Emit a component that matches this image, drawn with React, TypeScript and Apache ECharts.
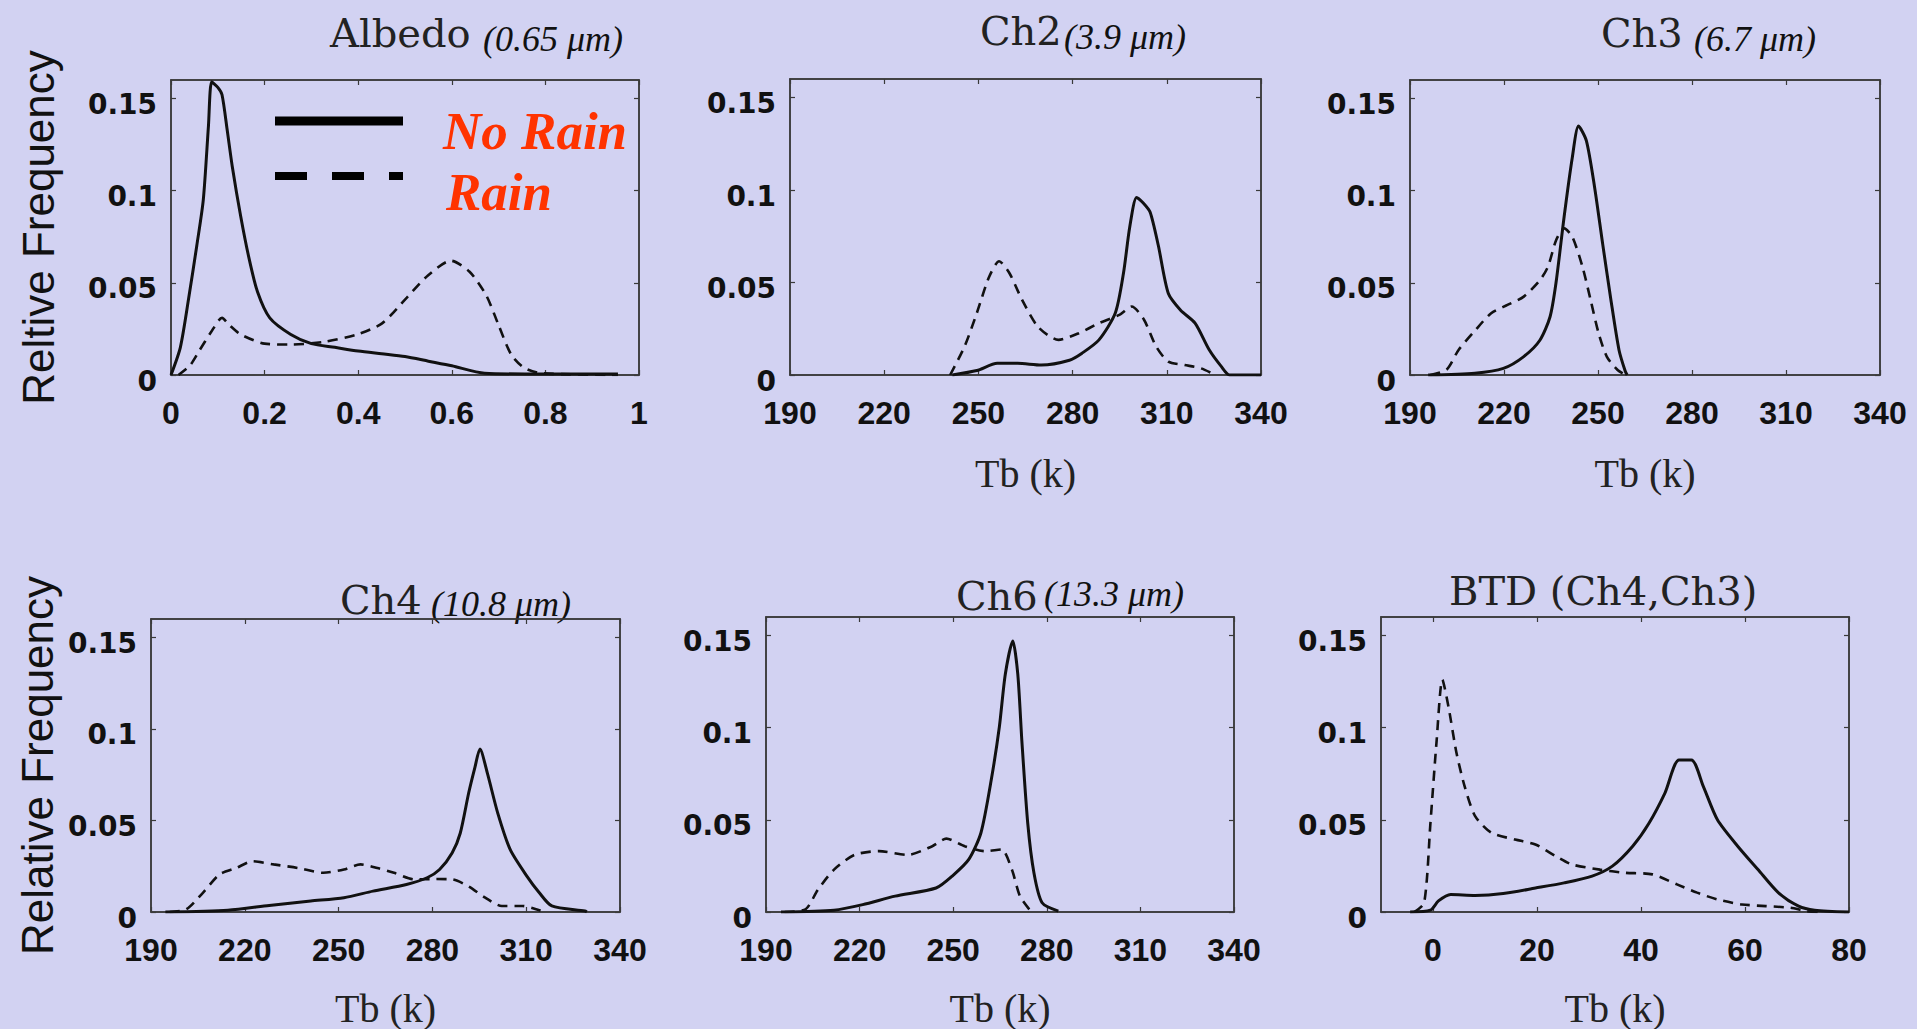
import React, { useEffect, useRef } from "react";
import * as echarts from "echarts";

const BG = "#d2d2f2";
const AXIS_COLOR = "#3a3a3a";

// ---- Data (x, relative frequency) ----
const albedoNoRain: number[][] = [[0,0],[0.02,0.015],[0.038,0.042],[0.055,0.07],[0.069,0.095],[0.08,0.135],[0.087,0.159],[0.1,0.156],[0.109,0.152],[0.12,0.133],[0.131,0.113],[0.149,0.086],[0.167,0.063],[0.185,0.045],[0.211,0.031],[0.256,0.022],[0.3,0.017],[0.35,0.015],[0.4,0.013],[0.45,0.0115],[0.5,0.01],[0.55,0.0075],[0.6,0.005],[0.67,0.001],[0.8,0.0005],[0.955,0.0005]];
const albedoRain: number[][] = [[0.016,0],[0.04,0.005],[0.06,0.013],[0.085,0.023],[0.109,0.031],[0.125,0.027],[0.149,0.022],[0.2,0.017],[0.256,0.0165],[0.327,0.018],[0.398,0.022],[0.451,0.028],[0.504,0.042],[0.549,0.054],[0.598,0.062],[0.638,0.056],[0.674,0.043],[0.7,0.027],[0.727,0.011],[0.754,0.004],[0.79,0.001],[0.955,0]];

const ch2NoRain: number[][] = [[241.7,0],[249.5,0.0024],[256,0.0063],[262.5,0.0063],[270,0.0054],[279,0.008],[283,0.0118],[288.4,0.019],[293.6,0.0335],[296.2,0.055],[298.2,0.08],[300.4,0.096],[302.5,0.093],[304.7,0.088],[307.3,0.07],[310.5,0.044],[314.4,0.035],[319,0.028],[323.5,0.0136],[327.4,0.0045],[330,0],[340,0]];
const ch2Rain: number[][] = [[241,0],[245.6,0.0154],[249.5,0.0335],[253.4,0.053],[256.6,0.0615],[259.9,0.055],[263.8,0.041],[269,0.026],[275.5,0.019],[282,0.0226],[288.4,0.028],[294.9,0.0325],[298.8,0.037],[302.7,0.03],[306.6,0.0154],[310.5,0.0072],[315.7,0.0054],[320.9,0.0036],[325.5,0]];

const ch3NoRain: number[][] = [[195.8,0],[210.7,0.001],[219.8,0.0036],[226.3,0.01],[231.5,0.019],[234.7,0.0316],[236.6,0.05],[239.2,0.086],[241.8,0.118],[243.8,0.135],[246.3,0.127],[248.9,0.102],[251.5,0.071],[254.1,0.041],[256.7,0.0136],[258.7,0.002],[259.3,0]];
const ch3Rain: number[][] = [[196.5,0],[201.7,0.003],[205.5,0.0136],[210.7,0.024],[215.9,0.0335],[221.1,0.038],[226.3,0.0425],[231.5,0.0515],[234.1,0.059],[236.6,0.073],[239.2,0.0795],[241.8,0.075],[245,0.059],[247.6,0.041],[250.2,0.0226],[252.8,0.01],[256.1,0.003],[258.7,0]];

const ch4NoRain: number[][] = [[194.6,0],[214.6,0.001],[227.8,0.0036],[241.1,0.006],[251.7,0.0078],[261,0.0114],[271.7,0.015],[278.3,0.0187],[282.3,0.0232],[286.3,0.0322],[288.9,0.043],[291.6,0.065],[293.6,0.079],[295.2,0.089],[297.6,0.0757],[300.9,0.054],[304.9,0.034],[310.2,0.0196],[314.2,0.0105],[318.2,0.0033],[328.8,0.0005],[329.4,0]];
const ch4Rain: number[][] = [[196,0],[201.3,0.0015],[206.6,0.0105],[211.9,0.0205],[217.2,0.024],[222.5,0.0277],[229.2,0.026],[237.1,0.024],[245.1,0.0214],[251.7,0.0232],[257,0.026],[262.4,0.024],[267.7,0.0214],[274.3,0.0178],[281,0.018],[286.3,0.0178],[291.6,0.014],[296.9,0.0078],[302.2,0.0033],[308.8,0.0033],[314.2,0.001],[316,0]];

const ch6NoRain: number[][] = [[194.8,0],[211.8,0.001],[221,0.004],[231.4,0.0086],[244.5,0.013],[249.7,0.0195],[255,0.0285],[258.9,0.043],[262.2,0.0717],[264.8,0.1005],[266.7,0.129],[269.1,0.147],[270.7,0.129],[272,0.093],[273.9,0.048],[275.9,0.021],[278.5,0.005],[283.7,0.0005]];
const ch6Rain: number[][] = [[196,0],[202.7,0.0015],[206.6,0.012],[211.8,0.023],[218.4,0.031],[226.2,0.033],[235.4,0.031],[243.3,0.0357],[247.8,0.0398],[253.7,0.0357],[260.2,0.033],[265.5,0.0339],[268.8,0.023],[271.4,0.0086],[274.6,0.001]];

const btdNoRain: number[][] = [[-4.4,0],[-0.5,0.001],[1.05,0.006],[3.4,0.0095],[8.1,0.009],[13.5,0.01],[19.7,0.013],[25.2,0.0158],[30.6,0.0195],[34.5,0.0249],[38.4,0.0357],[41.5,0.048],[44.6,0.0645],[47.3,0.0825],[49.7,0.0825],[52,0.068],[54.7,0.05],[58.6,0.0357],[62.5,0.023],[66.4,0.0105],[70.3,0.0032],[73.4,0.001],[80,0]];
const btdRain: number[][] = [[-3.6,0],[-1.7,0.005],[-0.5,0.048],[0.7,0.093],[1.8,0.126],[3,0.111],[4.5,0.0865],[6.1,0.068],[8.1,0.052],[11.2,0.043],[15.8,0.0393],[19.7,0.0366],[23.6,0.0303],[26.7,0.0258],[32.1,0.023],[36.8,0.0213],[42.2,0.0204],[46.9,0.015],[50.8,0.0105],[54.7,0.0068],[59.4,0.0041],[64,0.0032],[68.7,0.0023],[71.8,0.0005],[74,0]];

// ---- Tick values ----
const albedoTicks = [0, 0.2, 0.4, 0.6, 0.8, 1];
const tbTicks = [190, 220, 250, 280, 310, 340];
const btdTicks = [0, 20, 40, 60, 80];
const freqTicks = [0, 0.05, 0.1, 0.15];

const seriesNames = ["No Rain", "Rain"];
const xAxisTitle = "Tb (k)";

// ---- Panels ----
const panels = [
  { title: "Albedo", sub: "(0.65 μm)", xMin: 0, xMax: 1, xTicks: albedoTicks, noRain: albedoNoRain, rain: albedoRain, yName: "Reltive Frequency", xName: "",
    grid: { left: 171, top: 80, width: 468, height: 295 }, yGap: 111, xGap: 78,
    tPos: [330, 33], sPos: [483, 39] },
  { title: "Ch2", sub: "(3.9 μm)", xMin: 190, xMax: 340, xTicks: tbTicks, noRain: ch2NoRain, rain: ch2Rain, yName: "", xName: xAxisTitle,
    grid: { left: 790, top: 79, width: 471, height: 296 }, yGap: 0, xGap: 78,
    tPos: [980, 31], sPos: [1064, 37] },
  { title: "Ch3", sub: "(6.7 μm)", xMin: 190, xMax: 340, xTicks: tbTicks, noRain: ch3NoRain, rain: ch3Rain, yName: "", xName: xAxisTitle,
    grid: { left: 1410, top: 80, width: 470, height: 295 }, yGap: 0, xGap: 78,
    tPos: [1601, 33], sPos: [1694, 39] },
  { title: "Ch4", sub: "(10.8 μm)", xMin: 190, xMax: 340, xTicks: tbTicks, noRain: ch4NoRain, rain: ch4Rain, yName: "Relative Frequency", xName: xAxisTitle,
    grid: { left: 151, top: 619, width: 469, height: 294 }, yGap: 92, xGap: 76,
    tPos: [340, 600], sPos: [431, 604] },
  { title: "Ch6", sub: "(13.3 μm)", xMin: 190, xMax: 340, xTicks: tbTicks, noRain: ch6NoRain, rain: ch6Rain, yName: "", xName: xAxisTitle,
    grid: { left: 766, top: 617, width: 468, height: 296 }, yGap: 0, xGap: 76,
    tPos: [956, 596], sPos: [1044, 594] },
  { title: "BTD (Ch4,Ch3)", sub: "", xMin: -10, xMax: 80, xTicks: btdTicks, noRain: btdNoRain, rain: btdRain, yName: "", xName: xAxisTitle,
    grid: { left: 1381, top: 617, width: 468, height: 296 }, yGap: 0, xGap: 76,
    tPos: [1449, 591], sPos: [0, 0] },
];

export default function App() {
  const ref = useRef<HTMLDivElement>(null);

  useEffect(() => {
    if (!ref.current) return;
    const chart = echarts.init(ref.current, null, { renderer: "svg", width: 1917, height: 1029 });

    const grids: any[] = [];
    const xAxes: any[] = [];
    const yAxes: any[] = [];
    const series: any[] = [];
    const graphics: any[] = [];

    panels.forEach((p, i) => {
      grids.push({
        ...p.grid,
        show: true,
        borderColor: AXIS_COLOR,
        borderWidth: 1.5,
        backgroundColor: "transparent",
        containLabel: false,
      });
      const tickCommon = { inside: true, length: 5, lineStyle: { color: AXIS_COLOR, width: 1.2 } };
      // bottom x axis
      xAxes.push({
        type: "value",
        gridIndex: i,
        position: "bottom",
        min: p.xMin,
        max: p.xMax,
        axisLine: { show: true, onZero: false, lineStyle: { color: AXIS_COLOR, width: 1.5 } },
        axisTick: { ...tickCommon, customValues: p.xTicks },
        axisLabel: {
          customValues: p.xTicks,
          margin: 22,
          fontSize: 32,
          fontWeight: "bold",
          fontFamily: "Liberation Sans",
          color: "#111",
        },
        splitLine: { show: false },
        name: p.xName,
        nameLocation: "middle",
        nameGap: p.xGap,
        nameTextStyle: { fontFamily: "Liberation Serif", fontSize: 40, color: "#222" },
      });
      // top x axis (ticks only)
      xAxes.push({
        type: "value",
        gridIndex: i,
        position: "top",
        min: p.xMin,
        max: p.xMax,
        axisLine: { show: true, onZero: false, lineStyle: { color: AXIS_COLOR, width: 1.5 } },
        axisTick: { ...tickCommon, customValues: p.xTicks },
        axisLabel: { show: false },
        splitLine: { show: false },
      });
      // left y axis
      yAxes.push({
        type: "value",
        gridIndex: i,
        position: "left",
        min: 0,
        max: 0.16,
        axisLine: { show: true, onZero: false, lineStyle: { color: AXIS_COLOR, width: 1.5 } },
        axisTick: { ...tickCommon, customValues: freqTicks },
        axisLabel: {
          customValues: freqTicks,
          margin: 14,
          fontSize: 28,
          fontWeight: "bold",
          fontFamily: "DejaVu Sans",
          color: "#111",
          verticalAlign: "top",
          lineHeight: 12,
        },
        splitLine: { show: false },
        name: p.yName,
        nameLocation: "middle",
        nameGap: p.yGap,
        nameRotate: 90,
        nameTextStyle: { fontFamily: "Liberation Sans", fontSize: 44, color: "#111" },
      });
      // right y axis (ticks only)
      yAxes.push({
        type: "value",
        gridIndex: i,
        position: "right",
        min: 0,
        max: 0.16,
        axisLine: { show: true, onZero: false, lineStyle: { color: AXIS_COLOR, width: 1.5 } },
        axisTick: { ...tickCommon, customValues: freqTicks },
        axisLabel: { show: false },
        splitLine: { show: false },
      });

      series.push({
        name: seriesNames[0],
        type: "line",
        xAxisIndex: 2 * i,
        yAxisIndex: 2 * i,
        data: p.noRain,
        showSymbol: false,
        smooth: 0.25,
        lineStyle: { color: "#111", width: 3, type: "solid" },
        z: 3,
      });
      series.push({
        name: seriesNames[1],
        type: "line",
        xAxisIndex: 2 * i,
        yAxisIndex: 2 * i,
        data: p.rain,
        showSymbol: false,
        smooth: 0.25,
        lineStyle: { color: "#111", width: 2.6, type: [10, 7] },
        z: 3,
      });

      graphics.push({
        type: "text",
        x: p.tPos[0],
        y: p.tPos[1],
        style: {
          text: p.title,
          fontFamily: "DejaVu Serif",
          fontSize: 40,
          fill: "#222",
          textAlign: "left",
          textVerticalAlign: "middle",
        },
      });
      if (p.sub) {
        graphics.push({
          type: "text",
          x: p.sPos[0],
          y: p.sPos[1],
          style: {
            text: p.sub,
            fontFamily: "Liberation Serif",
            fontStyle: "italic",
            fontSize: 36,
            fill: "#111",
            textAlign: "left",
            textVerticalAlign: "middle",
          },
        });
      }
    });

    // Legend (drawn in the Albedo panel)
    graphics.push({
      type: "line",
      shape: { x1: 275, y1: 121, x2: 403, y2: 121 },
      style: { stroke: "#000", lineWidth: 9 },
    });
    graphics.push({
      type: "line",
      shape: { x1: 275, y1: 176, x2: 403, y2: 176 },
      style: { stroke: "#000", lineWidth: 8, lineDash: [32, 25] },
    });
    graphics.push({
      type: "text",
      x: 443,
      y: 131,
      style: {
        text: seriesNames[0],
        fontFamily: "Liberation Serif",
        fontStyle: "italic",
        fontWeight: "bold",
        fontSize: 53,
        fill: "#ff3300",
        textAlign: "left",
        textVerticalAlign: "middle",
      },
    });
    graphics.push({
      type: "text",
      x: 446,
      y: 192,
      style: {
        text: seriesNames[1],
        fontFamily: "Liberation Serif",
        fontStyle: "italic",
        fontWeight: "bold",
        fontSize: 53,
        fill: "#ff3300",
        textAlign: "left",
        textVerticalAlign: "middle",
      },
    });

    chart.setOption({
      animation: false,
      backgroundColor: BG,
      grid: grids,
      xAxis: xAxes,
      yAxis: yAxes,
      series,
      graphic: graphics,
    });

    return () => chart.dispose();
  }, []);

  return (
    <div
      ref={ref}
      style={{ position: "fixed", left: 0, top: 0, width: 1917, height: 1029, background: BG }}
    />
  );
}
